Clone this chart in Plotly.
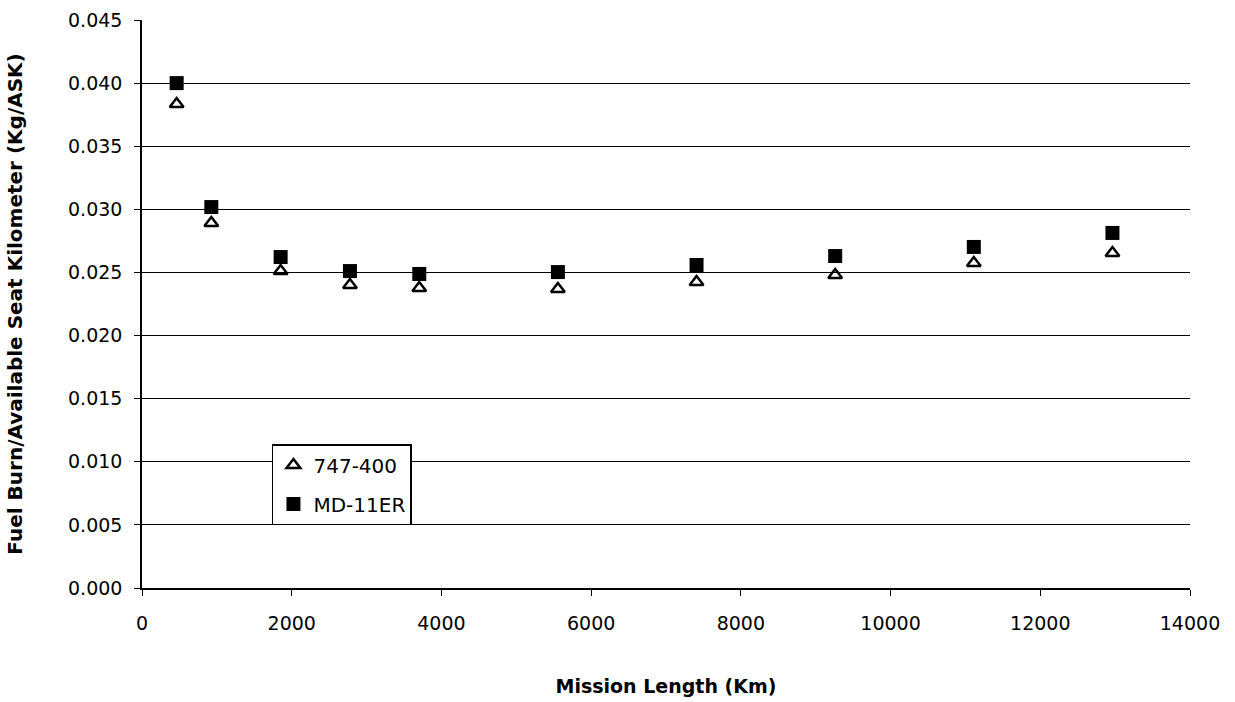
import plotly.graph_objects as go

mission_km = [463, 926, 1852, 2778, 3704, 5556, 7408, 9260, 11112, 12964]
b747_400 = [0.03835, 0.02892, 0.02511, 0.02400, 0.02377, 0.02369, 0.02424, 0.02480, 0.02575, 0.02654]
md11er = [0.04000, 0.03018, 0.02622, 0.02511, 0.02488, 0.02503, 0.02559, 0.02630, 0.02702, 0.02813]

y_ticks = [0.000, 0.005, 0.010, 0.015, 0.020, 0.025, 0.030, 0.035, 0.040, 0.045]
x_ticks = [0, 2000, 4000, 6000, 8000, 10000, 12000, 14000]

font = "DejaVu Sans, Liberation Sans, Arial, sans-serif"

fig = go.Figure()
fig.add_trace(go.Scatter(
    x=mission_km, y=b747_400, mode="markers", name="747-400", legendgroup="a",
    marker=dict(symbol="triangle-up-open", size=12, color="black", line=dict(width=2.5, color="black")),
))
fig.add_trace(go.Scatter(
    x=mission_km, y=md11er, mode="markers", name="MD-11ER", legendgroup="b",
    marker=dict(symbol="square", size=14, color="black"),
))

fig.update_layout(
    width=1235, height=702,
    margin=dict(l=142, r=45, t=20, b=114),
    paper_bgcolor="white", plot_bgcolor="white",
    font=dict(family=font, size=19, color="black"),
    showlegend=True,
    legend=dict(
        x=0.124, y=0.2535, xanchor="left", yanchor="top",
        bgcolor="white", bordercolor="black", borderwidth=1.5,
        font=dict(size=20, color="black"),
        traceorder="grouped", tracegroupgap=10, itemwidth=30,
    ),
    xaxis=dict(
        range=[0, 14000], tickvals=x_ticks, ticktext=[str(v) for v in x_ticks],
        showgrid=False, zeroline=False, showline=True, linecolor="black", linewidth=1.5,
        ticks="outside", ticklen=6, tickcolor="black", tickwidth=1, ticklabelstandoff=11,
        automargin=False,
        title=dict(text="<b>Mission Length (Km)</b>", font=dict(size=19), standoff=47),
    ),
    yaxis=dict(
        range=[0, 0.045], tickvals=y_ticks, ticktext=[f"{v:.3f}" for v in y_ticks],
        showgrid=True, gridcolor="black", gridwidth=1, zeroline=False,
        showline=True, linecolor="black", linewidth=1.5,
        ticks="outside", ticklen=6, tickcolor="black", tickwidth=1, ticklabelstandoff=8,
        automargin=False,
        title=dict(text="<b>Fuel Burn/Available Seat Kilometer (Kg/ASK)</b>", font=dict(size=20), standoff=40),
    ),
)

fig.write_html("out.html")
